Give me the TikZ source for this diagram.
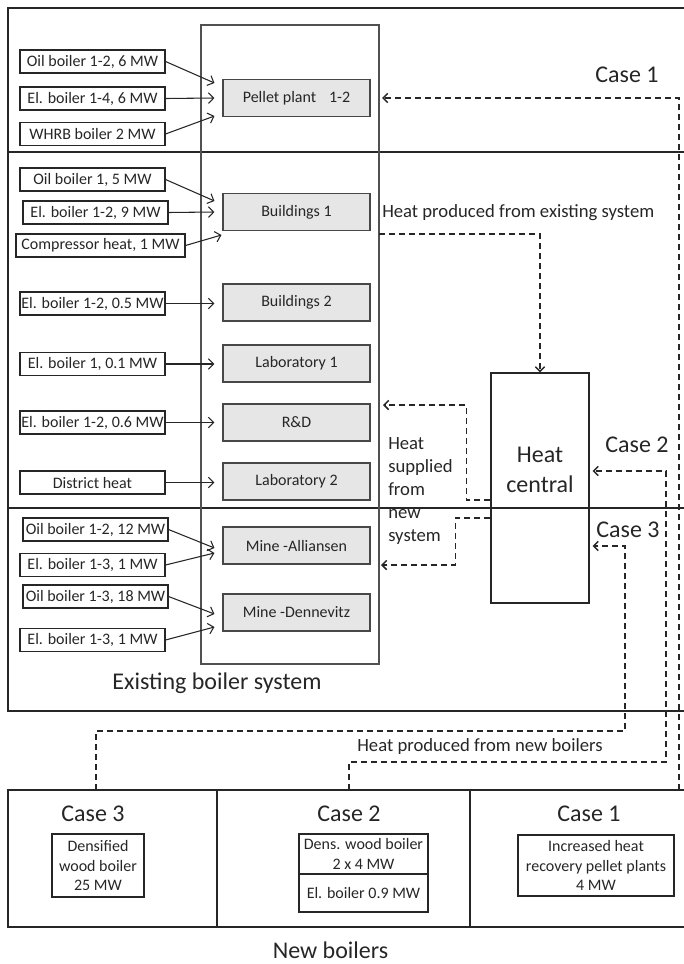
\documentclass[tikz,border=0pt]{standalone}
\usepackage{fontspec}
\setmainfont{Carlito}
\usetikzlibrary{arrows.meta,calc}
\definecolor{ink}{HTML}{262626}
\definecolor{boxgray}{HTML}{E6E6E6}
\begin{document}
\begin{tikzpicture}[x=0.75pt,y=-0.75pt,
  every node/.style={text=ink},
  fs12/.style={font=\fontsize{12pt}{14.6pt}\selectfont},
  fs14/.style={font=\fontsize{14pt}{17.25pt}\selectfont},
  fs18/.style={font=\fontsize{18pt}{22.5pt}\selectfont},
  framel/.style={draw=ink, line width=1.4pt},
  lbox/.style={draw=ink, line width=0.8pt, fill=white, minimum width=108.75pt, minimum height=17.25pt, inner sep=0pt, fs12},
  gbox/.style={draw=ink!85, line width=0.8pt, fill=boxgray, minimum width=110.25pt, minimum height=27.75pt, inner sep=0pt, fs12},
  bbox/.style={draw=ink, line width=0.8pt, align=center, inner sep=0pt, fs12},
  arr/.style={draw=ink, line width=0.8pt, -{Straight Barb[length=4pt,width=8pt]}},
  darr/.style={draw=ink, line width=1.1pt, dash pattern=on 4.5pt off 3pt, -{Straight Barb[length=3.5pt,width=7pt]}},
]
\useasboundingbox (0,0) rectangle (684,964);

% outer frames
\draw[framel] (684,8) -- (8,8) -- (8,711) -- (684,711);
\draw[framel] (8,152) -- (684,152);
\draw[framel] (8,508) -- (684,508);
\draw[framel] (684,790) -- (8,790) -- (8,927) -- (684,927);
\draw[framel] (217,790) -- (217,927);
\draw[framel] (470,790) -- (470,927);

% inner frame of existing system
\node[draw=ink!80, line width=1pt, minimum width=133.5pt, minimum height=479.25pt, inner sep=0pt] (frame) at (290,344.5) {};

% consumers
\node[gbox] (pel) at (296.5,98) {Pellet plant\hspace{0.8em}1-2};
\node[gbox] (b1) at (296.5,212) {Buildings 1};
\node[gbox] (b2) at (296.5,302.5) {Buildings 2};
\node[gbox] (l1) at (296.5,363.5) {Laboratory 1};
\node[gbox] (rd) at (296.5,422.5) {R\&D};
\node[gbox] (l2) at (296.5,481.5) {Laboratory 2};
\node[gbox] (ma) at (296.5,545.5) {Mine -Alliansen};
\node[gbox] (md) at (296.5,612.5) {Mine -Dennevitz};

% boilers
\node[lbox] (ob1) at (92.5,61.5) {Oil boiler 1-2, 6 MW};
\node[lbox] (eb1) at (92.5,98.5) {El. boiler 1-4, 6 MW};
\node[lbox] (wh) at (92.5,134) {WHRB boiler 2 MW};
\node[lbox] (ob2) at (92.5,179.5) {Oil boiler 1, 5 MW};
\node[lbox] (eb2) at (95.5,212.5) {El. boiler 1-2, 9 MW};
\node[lbox, minimum width=126.75pt] (cp) at (100.5,245.5) {Compressor heat, 1 MW};
\node[lbox] (eb3) at (92.5,303.5) {El. boiler 1-2, 0.5 MW};
\node[lbox] (eb4) at (92.5,364) {El. boiler 1, 0.1 MW};
\node[lbox] (eb5) at (92.5,422.5) {El. boiler 1-2, 0.6 MW};
\node[lbox] (dh) at (92.5,482.5) {District heat};
\node[lbox] (ob3) at (95.5,529.5) {Oil boiler 1-2, 12 MW};
\node[lbox] (eb6) at (92.5,565) {El. boiler 1-3, 1 MW};
\node[lbox] (ob4) at (95.5,596.5) {Oil boiler 1-3, 18 MW};
\node[lbox] (eb7) at (92.5,640) {El. boiler 1-3, 1 MW};

% solid arrows
\draw[arr] (ob1.east) -- ([shift={(-8,-15)}]pel.west);
\draw[arr] (eb1.east) -- ([shift={(-8,0)}]pel.west);
\draw[arr] (wh.east) -- ([shift={(-8,18)}]pel.west);
\draw[arr] (ob2.east) -- ([shift={(-8,-11)}]b1.west);
\draw[arr] (eb2.east) -- ([shift={(-8,0)}]b1.west);
\draw[arr] (cp.east) -- ([shift={(-1,23)}]b1.west);
\draw[arr] (eb3.east) -- ([shift={(-8,1)}]b2.west);
\draw[arr] (eb4.east) -- ([shift={(-8,0.5)}]l1.west);
\draw[arr] (eb5.east) -- ([shift={(-8,0)}]rd.west);
\draw[arr] (dh.east) -- ([shift={(-8,1)}]l2.west);
\draw[arr] (ob3.east) -- ([shift={(-8,2.5)}]ma.west);
\draw[arr] (eb6.east) -- ([shift={(-8,7.5)}]ma.west);
\draw[arr] (ob4.east) -- ([shift={(-8,1.5)}]md.west);
\draw[arr] (eb7.east) -- ([shift={(-8,14.5)}]md.west);

% heat central
\node[draw=ink, line width=0.9pt, minimum width=73.5pt, minimum height=172.5pt, inner sep=0pt] (heat) at (540,488) {};
\node[fs18, align=center, inner sep=0pt] (hct) at (540,470) {Heat\\central};

% labels
\node[fs18] (case1t) at (627,75) {Case 1};
\node[fs18] (case2t) at (637,445) {Case 2};
\node[fs18] (case3t) at (628,530) {Case 3};
\node[fs14, anchor=west, inner sep=0pt] (hpe) at (382,213) {Heat produced from existing system};
\node[fs14, anchor=west, align=left, inner sep=0pt] (hs) at (388,491.5) {Heat\\supplied\\from\\new\\system};
\node[fs18] (ebs) at (217,683) {Existing boiler system};
\node[fs14] (hpn) at (480,747) {Heat produced from new boilers};

% new boilers
\node[fs18] (bc3) at (93,814) {Case 3};
\node[fs18] (bc2) at (349,814) {Case 2};
\node[fs18] (bc1) at (589,814) {Case 1};
\node[bbox, minimum width=69pt, minimum height=47.25pt] (dw) at (98,865.5) {Densified\\wood boiler\\25 MW};
\node[bbox, minimum width=96.75pt, minimum height=30pt] (dens) at (363.5,854) {Dens. wood boiler\\2 x 4 MW};
\node[bbox, minimum width=96.75pt, minimum height=28.5pt] (el09) at (363.5,893) {El. boiler 0.9 MW};
\node[bbox, minimum width=117pt, minimum height=45.75pt] (inc) at (596,865.5) {Increased heat\\recovery pellet plants\\4 MW};
\node[fs18] (nb) at (330.5,950) {New boilers};

% dashed connectors
\coordinate (c1s) at (679,790);
\coordinate (c2s) at (349,790);
\coordinate (c3s) at (96,790);
\coordinate (pelin) at (382,98);
\coordinate (exs) at (379,234);
\coordinate (rdin) at (383,405);
\coordinate (main) at (381,565);
\draw[darr] (c1s) |- (pelin);
\draw[darr] (c2s) -- (349,762) -| (666,471) -- ([shift={(3,-17)}]heat.east);
\draw[darr] (c3s) -- (96,731) -| (625,546) -- ([shift={(3,58)}]heat.east);
\draw[darr] (exs) -| (heat.north);
\draw[darr] ([shift={(0,12)}]heat.west) -- ++(-24,0) |- (rdin);
\draw[darr] ([shift={(0,30)}]heat.west) -- ++(-35,0) |- (main);
\end{tikzpicture}
\end{document}
